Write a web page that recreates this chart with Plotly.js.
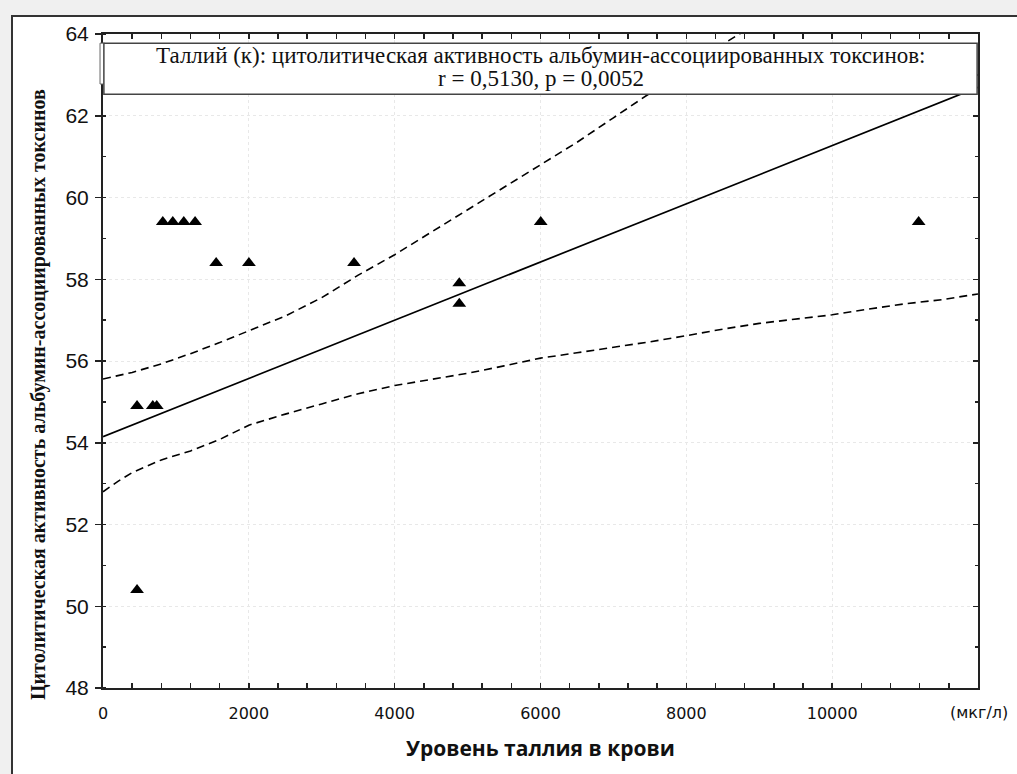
<!DOCTYPE html>
<html>
<head>
<meta charset="utf-8">
<script src="https://cdn.plot.ly/plotly-3.0.1.min.js"></script>
<style>
  html, body { margin: 0; padding: 0; background: #f0f0f0; width: 1017px; height: 774px; overflow: hidden; }
  #frame { position: absolute; left: 11px; top: 15px; width: 1006px; height: 759px;
           border-left: 2px solid #333; border-top: 2px solid #333; background: #fff; box-sizing: border-box; }
  #chart { width: 1004px; height: 757px; }
</style>
</head>
<body>
<div id="frame"><div id="chart"></div></div>
<script>
// Observed points (thallium level, cytolytic activity)
const thalliumLevel = [467, 683, 737, 467, 820, 957, 1108, 1263, 1552, 2001, 3443, 4886, 4886, 6003, 11186];
const cytolyticActivity = [54.9, 54.9, 54.9, 50.4, 59.4, 59.4, 59.4, 59.4, 58.4, 58.4, 58.4, 57.9, 57.4, 59.4, 59.4];

// Regression line parameters
const regIntercept = 54.15;
const regSlope = 0.000712;
const regXRange = [0, 12000];

// Confidence band
const upperBandX = [0, 400, 800, 1200, 1600, 2000, 2500, 3000, 3500, 4000, 4500, 5000, 5500, 6000, 6500, 7000, 7500, 8000, 8500, 9000];
const upperBandY = [55.56, 55.72, 55.93, 56.18, 56.45, 56.74, 57.1, 57.55, 58.1, 58.6, 59.15, 59.7, 60.25, 60.8, 61.35, 61.95, 62.55, 63.15, 63.75, 64.3];
const lowerBandX = [0, 200, 400, 800, 1200, 1600, 2000, 2500, 3000, 3500, 4000, 4500, 5000, 5500, 6000, 6500, 7000, 7500, 8000, 8500, 9000, 9500, 10000, 10500, 11000, 11500, 12000];
const lowerBandY = [52.8, 53.05, 53.27, 53.58, 53.8, 54.08, 54.43, 54.7, 54.95, 55.2, 55.4, 55.55, 55.7, 55.88, 56.07, 56.2, 56.33, 56.47, 56.62, 56.78, 56.92, 57.02, 57.13, 57.27, 57.4, 57.5, 57.64];

// Axis ticks
const xTickVals = [0, 2000, 4000, 6000, 8000, 10000];
const xTickText = ['0', '2000', '4000', '6000', '8000', '10000'];
const yTickVals = [48, 50, 52, 54, 56, 58, 60, 62, 64];

// Text
const boxTitleLine1 = 'Таллий (к): цитолитическая активность альбумин-ассоциированных токсинов:';
const boxTitleLine2 = 'r = 0,5130, p = 0,0052';
const xTitle = 'Уровень таллия в крови';
const yTitle = 'Цитолитическая активность альбумин-ассоциированных токсинов';
const xUnit = '(мкг/л)';

const regY = regXRange.map(x => regIntercept + regSlope * x);

const dashStyle = '8px,5px';
const traces = [
  { x: upperBandX, y: upperBandY, mode: 'lines', line: { color: '#000', width: 1.6, dash: dashStyle }, hoverinfo: 'skip', showlegend: false },
  { x: lowerBandX, y: lowerBandY, mode: 'lines', line: { color: '#000', width: 1.6, dash: dashStyle }, hoverinfo: 'skip', showlegend: false },
  { x: regXRange, y: regY, mode: 'lines', line: { color: '#000', width: 1.7 }, showlegend: false },
  { x: thalliumLevel, y: cytolyticActivity, yaxis: 'y2', mode: 'markers',
    marker: { symbol: 'triangle-up', size: 12, color: '#000' }, showlegend: false }
];

const tickFontY = { family: 'Liberation Sans, Arial, sans-serif', size: 21, color: '#111' };
const tickFontX = { family: 'DejaVu Sans, sans-serif', size: 16, color: '#111' };

const layout = {
  width: 1004, height: 757,
  margin: { l: 90, r: 39, t: 17, b: 86 },
  paper_bgcolor: '#fff', plot_bgcolor: '#fff',
  showlegend: false,
  xaxis: {
    range: [0, 12000], tickmode: 'array', tickvals: xTickVals, ticktext: xTickText,
    ticks: 'inside', ticklen: 5, tickwidth: 1.5, tickcolor: '#222',
    showline: true, linewidth: 2, linecolor: '#222', mirror: 'allticks',
    showgrid: true, gridcolor: '#e8e8e8', griddash: 'dot', gridwidth: 1, zeroline: false,
    tickfont: tickFontX, ticklabelstandoff: 10,
    minor: { tick0: 0, dtick: 400, ticks: 'inside', ticklen: 3, tickwidth: 1.5, tickcolor: '#222', showgrid: false }
  },
  yaxis: {
    range: [48, 64], tickmode: 'array', tickvals: yTickVals,
    ticks: 'outside', ticklen: 6, tickwidth: 1.5, tickcolor: '#222',
    showline: true, linewidth: 2, linecolor: '#222', mirror: true,
    showgrid: true, gridcolor: '#e8e8e8', griddash: 'dot', gridwidth: 1, zeroline: false,
    tickfont: tickFontY, ticklabelstandoff: 2,
    minor: { tick0: 48, dtick: 1, ticks: 'inside', ticklen: 3, tickwidth: 1.5, tickcolor: '#222', showgrid: false }
  },
  yaxis2: {
    overlaying: 'y', side: 'right', range: [48, 64], tickmode: 'array', tickvals: yTickVals,
    ticks: 'inside', ticklen: 5, tickwidth: 1.5, tickcolor: '#222',
    showticklabels: false, showgrid: false, zeroline: false, showline: false,
    minor: { tick0: 48, dtick: 1, ticks: 'inside', ticklen: 3, tickwidth: 1.5, tickcolor: '#222', showgrid: false }
  },
  shapes: [
    { type: 'rect', xref: 'paper', yref: 'paper', x0: -0.0034, x1: 0.002, y0: 0.9235, y1: 0.986,
      fillcolor: '#fff', line: { color: '#666', width: 1 }, layer: 'above' },
    { type: 'rect', xref: 'paper', yref: 'paper', x0: 0.001, x1: 0.999, y0: 0.908, y1: 0.986,
      fillcolor: '#fff', line: { color: '#444', width: 1.5 }, layer: 'above' }
  ],
  annotations: [
    { text: boxTitleLine1, xref: 'paper', yref: 'paper', x: 0.5, y: 0.9672, xanchor: 'center', yanchor: 'middle',
      showarrow: false, font: { family: 'Liberation Serif, Times New Roman, serif', size: 23, color: '#111' } },
    { text: boxTitleLine2, xref: 'paper', yref: 'paper', x: 0.5, y: 0.9320, xanchor: 'center', yanchor: 'middle',
      showarrow: false, font: { family: 'Liberation Serif, Times New Roman, serif', size: 23, color: '#111' } },
    { text: '<b>' + xTitle + '</b>', xref: 'paper', yref: 'paper', x: 0.5, y: -0.0917, xanchor: 'center', yanchor: 'middle',
      showarrow: false, font: { family: 'Open Sans, Noto Sans, sans-serif', size: 21, color: '#111' } },
    { text: '<b>' + yTitle + '</b>', xref: 'paper', yref: 'paper', x: -0.0743, y: 0.4495, xanchor: 'center', yanchor: 'middle',
      textangle: -90, showarrow: false, font: { family: 'Liberation Serif, Times New Roman, serif', size: 20, color: '#111' } },
    { text: xUnit, xref: 'paper', yref: 'paper', x: 1.0011, y: -0.0367, xanchor: 'center', yanchor: 'middle',
      showarrow: false, font: { family: 'DejaVu Sans, sans-serif', size: 16, color: '#111' } }
  ]
};

Plotly.newPlot('chart', traces, layout, { displayModeBar: false, staticPlot: true });
</script>
</body>
</html>
